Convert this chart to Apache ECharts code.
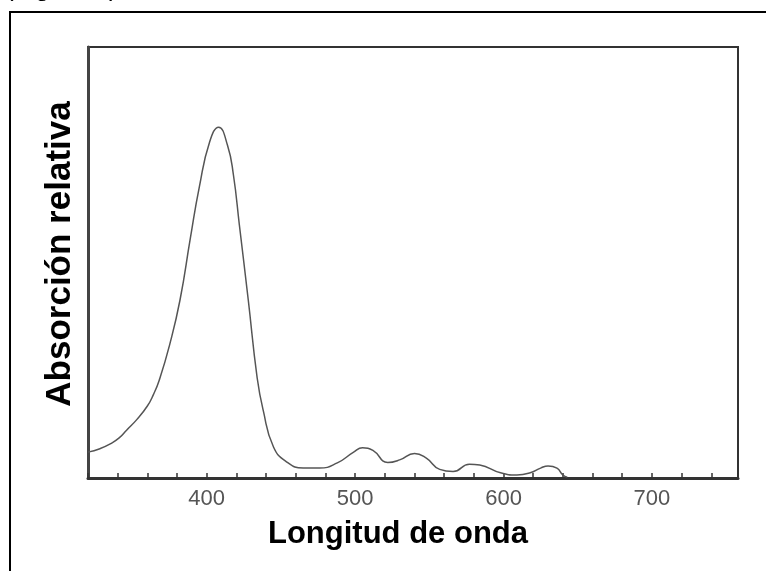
<!DOCTYPE html>
<html>
<head>
<meta charset="utf-8">
<script src="https://cdn.jsdelivr.net/npm/echarts@6/dist/echarts.min.js"></script>
<style>
  html, body { margin: 0; padding: 0; background: #fff; }
  #main { width: 766px; height: 571px; }
</style>
</head>
<body>
<div id="main"></div>
<script>
// longitud de onda (nm) y absorción relativa (escala 0-100)
var wavelength = [320, 328, 335, 341, 346, 353, 360, 364, 368, 375, 382, 389, 395, 402, 408, 414, 418, 422, 428, 434, 438, 445, 454, 465, 476, 488, 499, 505, 512, 522, 530, 540, 548, 557, 566, 577, 584, 598, 609, 618, 625, 630, 636, 640, 643];
var absorption = [6.0, 6.8, 7.9, 9.3, 11.1, 13.6, 16.7, 19.3, 22.7, 30.9, 41.3, 55.7, 67.5, 78.0, 81.4, 77.2, 70.3, 58.7, 41.3, 23.2, 15.8, 7.2, 3.7, 2.3, 2.3, 3.5, 6.0, 7.0, 6.4, 3.6, 4.2, 5.7, 4.6, 2.0, 1.5, 3.2, 3.0, 1.2, 0.7, 1.2, 2.3, 2.8, 2.3, 0.7, 0.2];
var shownTicks = [400, 500, 600, 700];

var xTitle = 'Longitud de onda';
var yTitle = 'Absorción relativa';
var figTitle = '(Figura 1)';

var chart = echarts.init(document.getElementById('main'));

var points = wavelength.map(function (w, i) { return [w, absorption[i]]; });

var option = {
    backgroundColor: '#fff',
    animation: false,
    grid: {
        left: 88, top: 47, right: 28, bottom: 93,
        show: true,
        borderColor: '#333',
        borderWidth: 2
    },
    xAxis: {
        type: 'value',
        min: 320,
        max: 758,
        interval: 20,
        axisLine: { show: true, lineStyle: { color: '#333', width: 3 } },
        axisTick: { show: true, inside: true, length: 5, lineStyle: { color: '#333', width: 1.5 } },
        axisLabel: {
            margin: 10,
            color: '#555',
            fontSize: 22,
            fontFamily: 'Liberation Sans, Arial, sans-serif',
            formatter: function (v) { return shownTicks.indexOf(v) >= 0 ? String(v) : ''; }
        },
        splitLine: { show: false }
    },
    yAxis: {
        type: 'value',
        min: 0,
        max: 100,
        axisLine: { show: true, lineStyle: { color: '#444', width: 3 } },
        axisTick: { show: false },
        axisLabel: { show: false },
        splitLine: { show: false }
    },
    series: [{
        type: 'line',
        data: points,
        smooth: 0.5,
        showSymbol: false,
        lineStyle: { color: '#555', width: 1.5 }
    }],
    graphic: [
        {
            type: 'rect',
            shape: { x: 10, y: 12, width: 800, height: 600 },
            style: { fill: 'none', stroke: '#000', lineWidth: 2 },
            silent: true
        },
        {
            type: 'text',
            x: 5, y: -11,
            style: {
                text: figTitle,
                font: '26px "Liberation Sans", Arial, sans-serif',
                fill: '#000',
                verticalAlign: 'middle'
            }
        },
        {
            type: 'text',
            x: 398, y: 534,
            style: {
                text: xTitle,
                font: 'bold 31px "Liberation Sans", Arial, sans-serif',
                fill: '#000',
                align: 'center',
                verticalAlign: 'middle'
            }
        },
        {
            type: 'text',
            x: 60, y: 254,
            rotation: Math.PI / 2,
            style: {
                text: yTitle,
                font: 'bold 35px "Liberation Sans", Arial, sans-serif',
                fill: '#000',
                align: 'center',
                verticalAlign: 'middle'
            }
        }
    ]
};

chart.setOption(option);
</script>
</body>
</html>
